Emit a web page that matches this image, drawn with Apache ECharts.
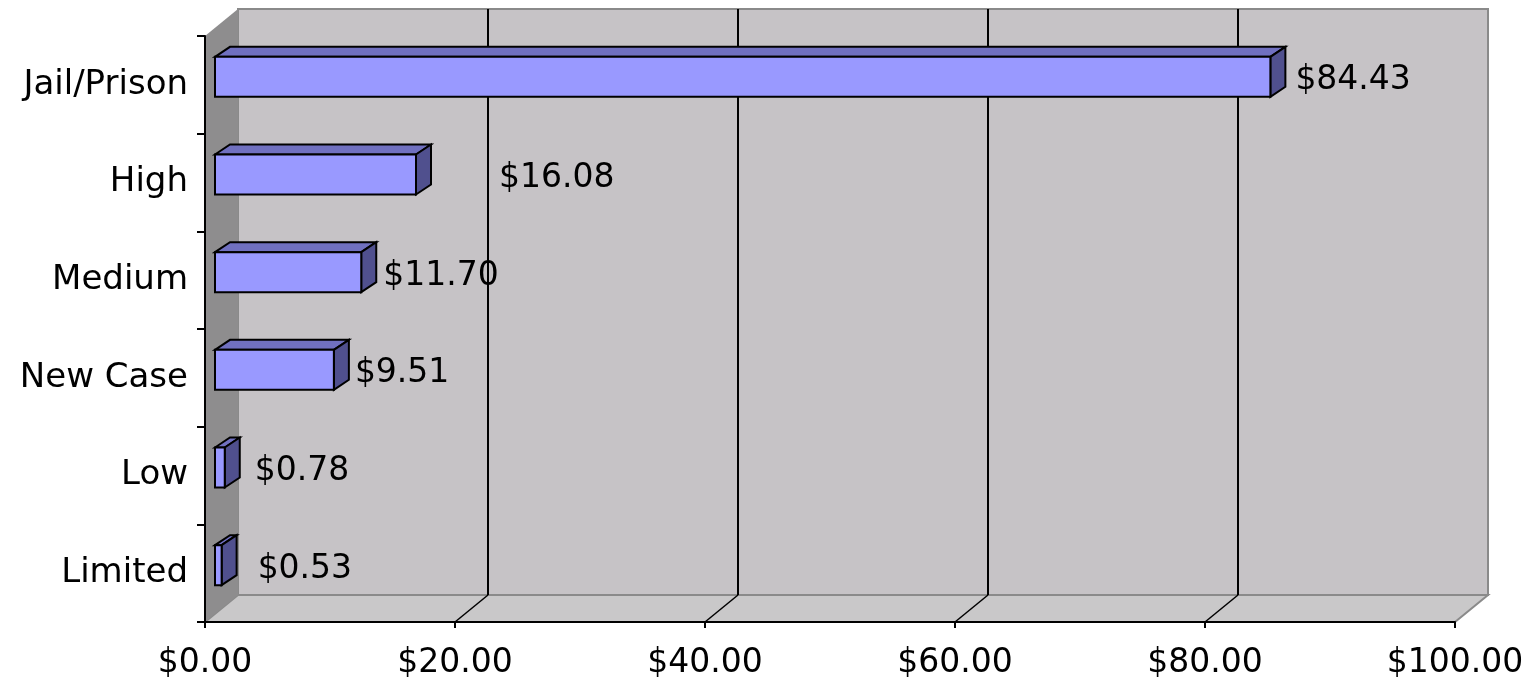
<!DOCTYPE html>
<html>
<head>
<meta charset="utf-8">
<script src="https://cdn.jsdelivr.net/npm/echarts@6/dist/echarts.min.js"></script>
<style>html,body{margin:0;padding:0;background:#fff;}#c{width:1529px;height:680px;}</style>
</head>
<body>
<div id="c"></div>
<script>
// ---- data ----
const categories = ['Jail/Prison', 'High', 'Medium', 'New Case', 'Low', 'Limited'];
const values = [84.43, 16.08, 11.70, 9.51, 0.78, 0.53];
const xMin = 0, xMax = 100, xStep = 20;

// ---- style constants ----
const FONT = 'DejaVu Sans';
const DX = 33, DY = -27;          // depth of the 3D box (px)
const BAR_DX = 15, BAR_DY = -10;  // depth of each bar
const BAR_SHIFT_X = 10, BAR_SHIFT_Y = -8, BAR_H = 40;
const labelNudge = [0, 58, -3, -4, 5, 11];

const chart = echarts.init(document.getElementById('c'), null, {renderer: 'canvas'});

function renderBox(params, api) {
  const cs = params.coordSys;
  const x0 = cs.x, y0 = cs.y, x1 = cs.x + cs.width, y1 = cs.y + cs.height;
  const children = [];
  // back wall
  children.push({type: 'rect', shape: {x: x0 + DX, y: y0 + DY, width: x1 - x0, height: y1 - y0},
    style: {fill: '#c6c3c6', stroke: '#8a8a8a', lineWidth: 2}});
  // floor
  children.push({type: 'polygon', shape: {points: [[x0, y1], [x0 + DX, y1 + DY], [x1 + DX, y1 + DY], [x1, y1]]},
    style: {fill: '#c9c8c9', stroke: '#8a8a8a', lineWidth: 2}});
  // left wall
  children.push({type: 'polygon', shape: {points: [[x0, y0], [x0 + DX, y0 + DY], [x0 + DX, y1 + DY], [x0, y1]]},
    style: {fill: '#8e8d8e'}});
  // gridlines on back wall + floor
  for (let v = xMin + xStep; v < xMax; v += xStep) {
    const px = api.coord([v, 0])[0];
    children.push({type: 'line', shape: {x1: px + DX, y1: y0 + DY, x2: px + DX, y2: y1 + DY},
      style: {stroke: '#000', lineWidth: 2}});
    children.push({type: 'line', shape: {x1: px, y1: y1, x2: px + DX, y2: y1 + DY},
      style: {stroke: '#000', lineWidth: 1.5}});
  }
  return {type: 'group', children: children};
}

function renderBar(params, api) {
  const v = api.value(0), idx = params.dataIndex;
  const c0 = api.coord([0, idx]);
  const c1 = api.coord([v, idx]);
  const xs = c0[0] + BAR_SHIFT_X, xe = c1[0] + BAR_SHIFT_X;
  const yc = c0[1] + BAR_SHIFT_Y;
  const top = yc - BAR_H / 2, bot = yc + BAR_H / 2;
  const stroke = {stroke: '#000', lineWidth: 2, lineJoin: 'miter'};
  return {type: 'group', children: [
    {type: 'polygon', shape: {points: [[xs, top], [xs + BAR_DX, top + BAR_DY], [xe + BAR_DX, top + BAR_DY], [xe, top]]},
      style: Object.assign({fill: '#7070c0'}, stroke)},
    {type: 'polygon', shape: {points: [[xe, top], [xe + BAR_DX, top + BAR_DY], [xe + BAR_DX, bot + BAR_DY], [xe, bot]]},
      style: Object.assign({fill: '#50508e'}, stroke)},
    {type: 'rect', shape: {x: xs, y: top, width: xe - xs, height: BAR_H},
      style: Object.assign({fill: '#9999ff'}, stroke)},
    {type: 'text', style: {text: '$' + v.toFixed(2), x: xe + BAR_DX + 10 + labelNudge[idx], y: c0[1] - 4,
      fontSize: 33, fontFamily: FONT, fill: '#000', align: 'left', verticalAlign: 'middle'}}
  ]};
}

chart.setOption({
  animation: false,
  backgroundColor: '#fff',
  grid: {left: 205, right: 74, top: 36, bottom: 58},
  xAxis: {
    type: 'value', min: xMin, max: xMax, interval: xStep, z: 5,
    axisLine: {show: true, lineStyle: {color: '#000', width: 2}},
    axisTick: {show: true, length: 6, lineStyle: {color: '#000', width: 2}},
    axisLabel: {formatter: v => '$' + v.toFixed(2), fontSize: 33, fontFamily: FONT, color: '#000', margin: 25},
    splitLine: {show: false}
  },
  yAxis: {
    type: 'category', data: categories, inverse: true, z: 5,
    axisLine: {show: true, lineStyle: {color: '#000', width: 2}},
    axisTick: {show: true, length: 8, lineStyle: {color: '#000', width: 2}},
    axisLabel: {fontSize: 34, fontFamily: FONT, color: '#000', margin: 17},
    splitLine: {show: false}
  },
  series: [
    {type: 'custom', z: 1, silent: true, renderItem: renderBox, data: [[0, 0]], encode: {x: 0, y: 1}},
    {type: 'custom', z: 3, renderItem: renderBar, data: values.map((v, i) => [v, i]), encode: {x: 0, y: 1}}
  ]
});
</script>
</body>
</html>
